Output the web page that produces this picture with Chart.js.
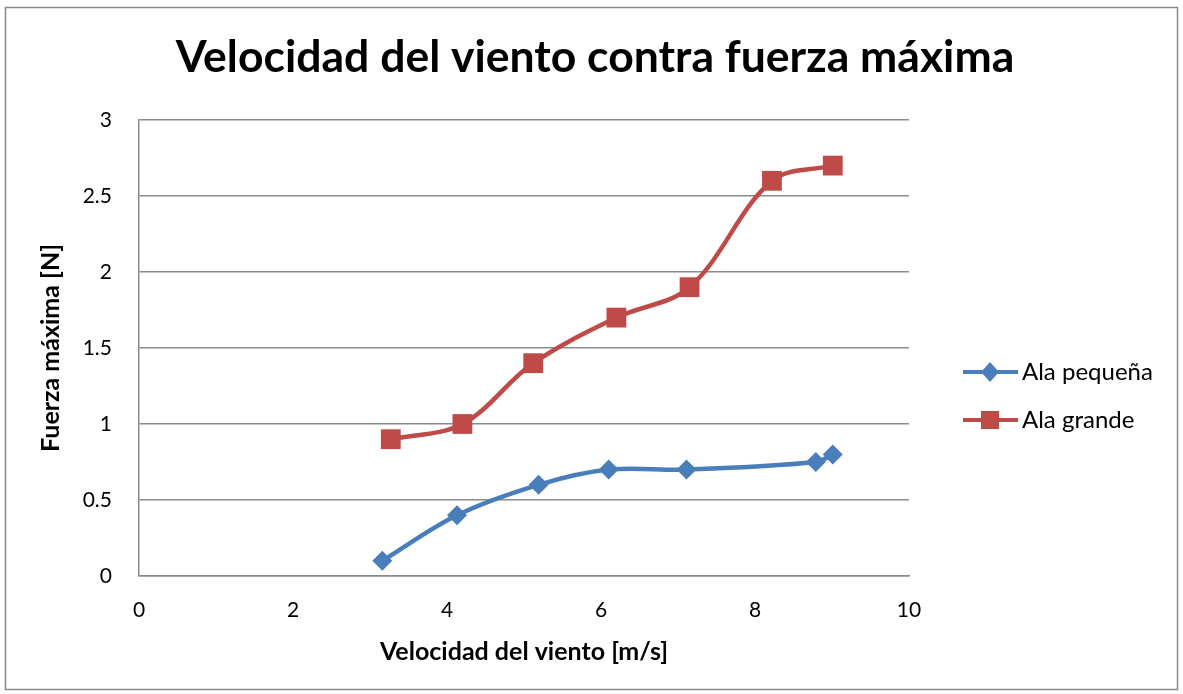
<!DOCTYPE html>
<html>
<head>
<meta charset="utf-8">
<script src="https://cdn.jsdelivr.net/npm/chart.js@4/dist/chart.umd.min.js"></script>
<style>
  html, body { margin: 0; padding: 0; background: #fff; }
  #wrap { position: relative; width: 1183px; height: 694px; }
</style>
</head>
<body>
<div id="wrap"><canvas id="fuerzaChart"></canvas></div>
<script>
// values
const smallX = [3.16, 4.13, 5.19, 6.10, 7.11, 8.79, 9.01];
const smallY = [0.1, 0.4, 0.6, 0.7, 0.7, 0.75, 0.8];
const largeX = [3.27, 4.20, 5.12, 6.20, 7.15, 8.22, 9.01];
const largeY = [0.9, 1.0, 1.4, 1.7, 1.9, 2.6, 2.7];
const seriesNames = ['Ala pequeña', 'Ala grande'];
const chartTitle = 'Velocidad del viento contra fuerza máxima';
const xTitle = 'Velocidad del viento [m/s]';
const yTitle = 'Fuerza máxima [N]';

const FONT = 'Lato';
const BLUE = '#4a7ebb';
const RED = '#be4b48';
const GRID = '#8a8a8a';

const toPoints = (xs, ys) => xs.map((x, i) => ({ x: x, y: ys[i] }));

// frame, title and legend
const decor = {
    id: 'decor',
    beforeDraw(chart) {
        const c = chart.ctx;
        c.save();
        c.fillStyle = '#fff';
        c.fillRect(0, 0, chart.width, chart.height);
        c.strokeStyle = '#8a8a8a';
        c.lineWidth = 1.5;
        c.strokeRect(5.5, 7.5, 1172, 682);
        c.restore();
    },
    afterDraw(chart) {
        const c = chart.ctx;
        c.save();
        c.fillStyle = '#000';
        c.font = 'bold 44.5px ' + FONT;
        c.textAlign = 'center';
        c.textBaseline = 'middle';
        c.fillText(chartTitle, 595, 58);

        const rows = [372, 420];
        chart.data.datasets.forEach((ds, i) => {
            const y = rows[i];
            c.strokeStyle = ds.borderColor;
            c.lineWidth = 4;
            c.beginPath();
            c.moveTo(963, y);
            c.lineTo(1018, y);
            c.stroke();
            c.fillStyle = ds.backgroundColor;
            c.beginPath();
            if (ds.pointStyle === 'rectRot') {
                c.moveTo(990 - 9, y);
                c.lineTo(990, y - 10);
                c.lineTo(990 + 9, y);
                c.lineTo(990, y + 10);
                c.closePath();
            } else {
                c.rect(981, y - 9, 18, 18);
            }
            c.fill();
            c.fillStyle = '#000';
            c.font = '24px ' + FONT;
            c.textAlign = 'left';
            c.fillText(ds.label, 1022, y);
        });
        c.restore();
    }
};

new Chart(document.getElementById('fuerzaChart'), {
    type: 'scatter',
    data: {
        datasets: [{
            label: seriesNames[0],
            data: toPoints(smallX, smallY),
            showLine: true,
            borderColor: BLUE,
            backgroundColor: BLUE,
            borderWidth: 4.5,
            tension: 0.35,
            pointStyle: 'rectRot',
            pointRadius: 10,
            pointHoverRadius: 10,
            pointBorderWidth: 0
        }, {
            label: seriesNames[1],
            data: toPoints(largeX, largeY),
            showLine: true,
            borderColor: RED,
            backgroundColor: RED,
            borderWidth: 4.5,
            tension: 0.35,
            pointStyle: 'rect',
            pointRadius: 14,
            pointHoverRadius: 14,
            pointBorderWidth: 0
        }]
    },
    options: {
        responsive: true,
        maintainAspectRatio: false,
        animation: false,
        layout: {
            padding: { top: 120, right: 274, bottom: 0, left: 0 }
        },
        plugins: {
            legend: { display: false },
            title: { display: false },
            tooltip: { enabled: false }
        },
        scales: {
            x: {
                type: 'linear',
                min: 0,
                max: 10,
                afterFit(scale) { scale.height = 118; },
                ticks: {
                    stepSize: 2,
                    padding: 22,
                    color: '#000',
                    font: { family: FONT, size: 21 }
                },
                grid: { display: false, drawTicks: false },
                border: { display: true, color: GRID, width: 1.5 },
                title: {
                    display: true,
                    text: xTitle,
                    color: '#000',
                    padding: { top: 0, bottom: 27 },
                    font: { family: FONT, size: 25, weight: 'bold' }
                }
            },
            y: {
                min: 0,
                max: 3,
                afterFit(scale) { scale.width = 139; },
                ticks: {
                    stepSize: 0.5,
                    padding: 27,
                    color: '#000',
                    font: { family: FONT, size: 21 },
                    callback: (v) => String(v)
                },
                grid: { color: GRID, lineWidth: 1.5, drawTicks: false },
                border: { display: true, color: GRID, width: 1.5 },
                title: {
                    display: true,
                    text: yTitle,
                    color: '#000',
                    padding: { top: 36, bottom: 0 },
                    font: { family: FONT, size: 25, weight: 'bold' }
                }
            }
        }
    },
    plugins: [decor]
});
</script>
</body>
</html>
